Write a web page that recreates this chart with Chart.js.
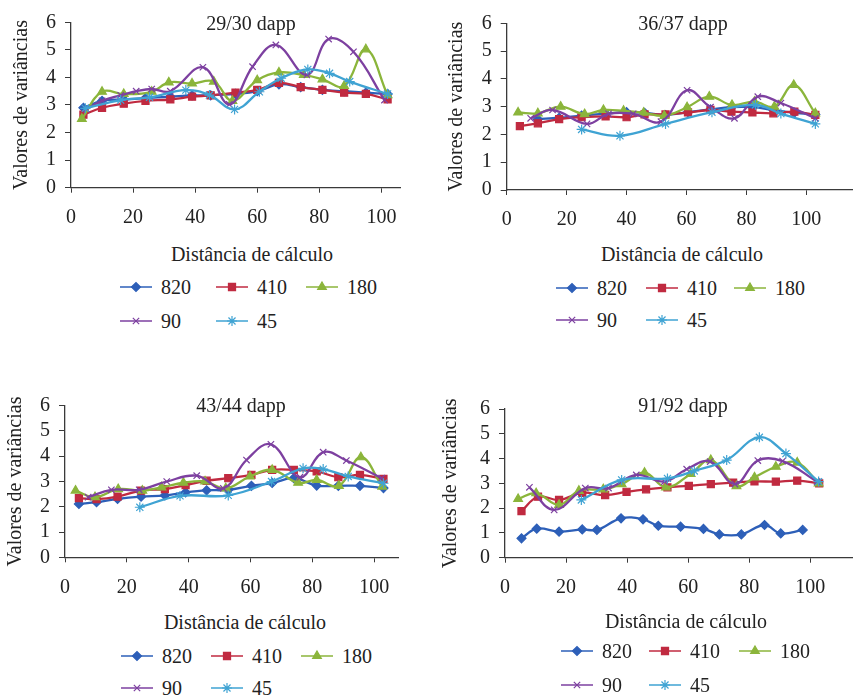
<!DOCTYPE html>
<html><head><meta charset="utf-8">
<script src="https://cdn.jsdelivr.net/npm/chart.js@4.4.1/dist/chart.umd.min.js"></script>
<style>
body{margin:0;width:859px;height:696px;overflow:hidden;background:#fff;font-family:"Liberation Serif","DejaVu Serif",serif;color:#222;position:relative;}
canvas{position:absolute;}
.t{position:absolute;font-size:20px;line-height:24px;white-space:nowrap;color:#222;}
.c{transform:translateX(-50%);}
</style></head><body>
<script>
// ---------- DATA ----------
const seriesNames = ['820', '410', '180', '90', '45'];
const panelTitles = ['29/30 dapp', '36/37 dapp', '43/44 dapp', '91/92 dapp'];
const xTicks = [0, 20, 40, 60, 80, 100];
const yTicks = [0, 1, 2, 3, 4, 5, 6];

// Panel 1: 29/30 dapp
const p1x820 = [4, 10, 17, 24, 32, 39, 45, 53, 60, 67, 74, 81, 88, 95, 102];
const p1y820 = [2.9, 3.15, 3.2, 3.25, 3.3, 3.35, 3.35, 3.4, 3.5, 3.75, 3.65, 3.55, 3.5, 3.45, 3.4];
const p1x410 = [4, 10, 17, 24, 32, 39, 45, 53, 60, 67, 74, 81, 88, 95, 102];
const p1y410 = [2.65, 2.9, 3.05, 3.15, 3.2, 3.3, 3.35, 3.45, 3.55, 3.8, 3.65, 3.55, 3.45, 3.4, 3.2];
const p1x180 = [3.5, 10, 17, 26, 31.5, 39, 46, 52, 60, 67, 75, 81, 88, 95, 102];
const p1y180 = [2.5, 3.48, 3.4, 3.48, 3.82, 3.78, 3.85, 3.15, 3.9, 4.18, 4.09, 3.93, 3.69, 5.02, 3.36];
const p1x90 = [5, 10, 16, 21, 26, 32, 42.5, 51, 58.5, 66, 76, 83, 91, 101];
const p1y90 = [2.85, 3.15, 3.35, 3.5, 3.58, 3.5, 4.37, 3.02, 4.39, 5.18, 4.09, 5.39, 4.93, 3.18];
const p1x45 = [4.6, 16, 25.3, 37, 44.6, 52.7, 60.7, 67.7, 76.3, 83.3, 89.8, 102];
const p1y45 = [2.88, 3.18, 3.28, 3.54, 3.36, 2.84, 3.48, 3.97, 4.29, 4.15, 3.85, 3.4];

// Panel 2: 36/37 dapp
const p2x820 = [10.4, 17.5, 25, 33, 40, 46, 53, 60.5, 68, 75, 82, 89, 96, 103];
const p2y820 = [2.55, 2.6, 2.68, 2.75, 2.8, 2.78, 2.7, 2.8, 2.9, 2.98, 2.98, 2.88, 2.78, 2.72];
const p2x410 = [4.4, 10.4, 17.5, 25, 33, 40, 46, 53, 60.5, 68, 75, 82, 89, 96, 103];
const p2y410 = [2.3, 2.4, 2.55, 2.62, 2.65, 2.62, 2.72, 2.72, 2.79, 2.88, 2.82, 2.79, 2.76, 2.82, 2.7];
const p2x180 = [3.8, 10.4, 18, 26, 32.3, 39, 45.7, 52.6, 60.2, 67.6, 75.2, 82.7, 89.3, 95.8, 103];
const p2y180 = [2.79, 2.76, 3.0, 2.73, 2.88, 2.85, 2.78, 2.67, 2.98, 3.36, 3.06, 3.18, 3.0, 3.78, 2.76];
const p2x90 = [8, 15.3, 26.8, 34, 42.2, 51.5, 60.2, 68, 76, 83.8, 91.5, 103];
const p2y90 = [2.58, 2.88, 2.38, 2.74, 2.74, 2.46, 3.59, 2.98, 2.58, 3.36, 3.13, 2.58];
const p2x45 = [25, 37.8, 53, 68.5, 83, 91.5, 103];
const p2y45 = [2.18, 1.95, 2.38, 2.8, 3.06, 2.75, 2.38];

// Panel 3: 43/44 dapp
const p3x820 = [4.5, 10.2, 17, 24.6, 32.3, 39, 45.8, 52.8, 60.3, 67, 74, 81.4, 88.4, 95.4, 103];
const p3y820 = [2.11, 2.18, 2.31, 2.4, 2.45, 2.57, 2.65, 2.67, 2.83, 2.94, 3.13, 2.84, 2.83, 2.83, 2.74];
const p3x410 = [4.5, 10.2, 17, 24.6, 32.3, 39, 45.8, 52.8, 60.3, 67, 74, 81.4, 88.4, 95.4, 103];
const p3y410 = [2.34, 2.3, 2.4, 2.64, 2.7, 2.86, 3.03, 3.13, 3.26, 3.46, 3.46, 3.4, 3.17, 3.26, 3.1];
const p3x180 = [3.4, 9.7, 17.2, 25, 31.2, 38.3, 45.3, 52, 59.8, 67, 75.4, 81.4, 88.6, 95.7, 102.6];
const p3y180 = [2.64, 2.38, 2.7, 2.64, 2.77, 2.95, 3.0, 2.73, 3.2, 3.46, 2.95, 3.06, 2.83, 3.96, 2.8];
const p3x90 = [7.5, 15, 24, 32.9, 42.6, 51.2, 58.7, 66.6, 76, 83.5, 91, 102.4];
const p3y90 = [2.38, 2.67, 2.67, 3.0, 3.23, 2.73, 3.85, 4.47, 3.17, 4.16, 3.83, 3.13];
const p3x45 = [24.2, 37.2, 52.8, 66.8, 77, 83.5, 91.6, 103];
const p3y45 = [1.98, 2.43, 2.45, 3.0, 3.52, 3.49, 3.2, 2.93];

// Panel 4: 91/92 dapp
const p4x820 = [5.4, 10.4, 17.7, 25.3, 30.1, 38, 45.2, 50.2, 57.5, 65, 70.2, 77.4, 85, 90.3, 97.5];
const p4y820 = [0.78, 1.17, 1.05, 1.14, 1.12, 1.59, 1.55, 1.29, 1.25, 1.16, 0.94, 0.94, 1.32, 0.98, 1.12];
const p4x410 = [5.4, 10.8, 17.7, 25.3, 32.8, 39.8, 46.2, 53.2, 60.2, 67.4, 74.7, 81.7, 88.7, 95.7, 102.9];
const p4y410 = [1.88, 2.46, 2.33, 2.62, 2.53, 2.66, 2.76, 2.84, 2.9, 2.97, 3.03, 3.08, 3.07, 3.11, 3.0];
const p4x180 = [4.3, 10.2, 17.7, 24.2, 32.2, 38.2, 45.7, 52.7, 60.8, 67.4, 75.8, 81.7, 88.7, 95.7, 102.7];
const p4y180 = [2.37, 2.6, 2.13, 2.7, 2.76, 2.97, 3.43, 2.84, 3.38, 3.94, 2.89, 3.24, 3.67, 3.84, 3.0];
const p4x90 = [8, 16.1, 26.3, 33.9, 43, 52.2, 59.5, 67.2, 75.3, 82.8, 90.9, 102.2];
const p4y90 = [2.84, 1.93, 2.81, 2.81, 3.34, 3.07, 3.57, 3.88, 2.97, 3.92, 3.9, 3.07];
const p4x45 = [25, 38.2, 53.2, 62, 72.6, 83.3, 92, 102.7];
const p4y45 = [2.33, 3.14, 3.2, 3.5, 3.94, 4.86, 4.2, 3.07];

// ---------- STYLE / LAYOUT ----------
const FONT = '"Liberation Serif","DejaVu Serif",serif';
const TXT = '#222';
const AX = '#3a3a3a';
const styles = [
  {color: '#2d5fb8', point: 'rectRot', r: 4.5, order: 5},
  {color: '#c02a40', point: 'rect', r: 5, order: 4},
  {color: '#8bb53b', point: 'triangle', r: 5, order: 3},
  {color: '#7d40a0', point: 'crossRot', r: 4.5, order: 2},
  {color: '#3fa3d3', point: 'star', r: 5, order: 1}
];

const panels = [
  {left: 0, top: 0, w: 420, h: 240, padTop: 22.3, padRight: 20, yW: 71, xMax: 106, plotBottom: 187.7, yTitlePad: 9.7,
   tX: 251, tBase: 30, xtX: 252, xtBase: 261, lb: [294, 328], lx: [161, 257, 347, 161, 257],
   xs: [p1x820, p1x410, p1x180, p1x90, p1x45], ys: [p1y820, p1y410, p1y180, p1y90, p1y45]},
  {left: 430, top: 0, w: 429, h: 240, padTop: 23.3, padRight: 1, yW: 76.7, xMax: 115.5, plotBottom: 190, yTitlePad: 15,
   tX: 683, tBase: 30, xtX: 682, xtBase: 261, lb: [295, 327], lx: [597, 687, 775, 597, 687],
   xs: [p2x820, p2x410, p2x180, p2x90, p2x45], ys: [p2y820, p2y410, p2y180, p2y90, p2y45]},
  {left: 0, top: 380, w: 420, h: 230, padTop: 25.7, padRight: 22, yW: 65, xMax: 107.7, plotBottom: 557.3, yTitlePad: 4,
   tX: 241, tBase: 412, xtX: 245, xtBase: 629, lb: [663, 695], lx: [162, 252, 342, 162, 252],
   xs: [p3x820, p3x410, p3x180, p3x90, p3x45], ys: [p3y820, p3y410, p3y180, p3y90, p3y45]},
  {left: 430, top: 380, w: 429, h: 230, padTop: 29, padRight: 1, yW: 75, xMax: 113.9, plotBottom: 557.7, yTitlePad: 9,
   tX: 683, tBase: 412, xtX: 686, xtBase: 628, lb: [658, 692], lx: [602, 690, 780, 602, 690],
   xs: [p4x820, p4x410, p4x180, p4x90, p4x45], ys: [p4y820, p4y410, p4y180, p4y90, p4y45]}
];

function addText(txt, x, base, center) {
  const d = document.createElement('div');
  d.className = 't' + (center ? ' c' : '');
  d.textContent = txt;
  d.style.left = x + 'px';
  d.style.top = (base - 18.75) + 'px';
  document.body.appendChild(d);
}

function drawGlyph(ctx, st, cx, cy) {
  ctx.save();
  ctx.strokeStyle = st.color; ctx.fillStyle = st.color; ctx.lineWidth = 1.5;
  ctx.beginPath(); ctx.moveTo(cx - 16, cy); ctx.lineTo(cx + 16, cy); ctx.stroke();
  ctx.lineWidth = 1.2;
  Chart.helpers.drawPoint(ctx, {pointStyle: st.point, radius: st.r, borderWidth: 1.2, rotation: 0}, cx, cy);
  ctx.restore();
}

panels.forEach((p, pi) => {
  const cv = document.createElement('canvas');
  cv.width = p.w; cv.height = p.h;
  cv.style.left = p.left + 'px'; cv.style.top = p.top + 'px';
  cv.style.width = p.w + 'px'; cv.style.height = p.h + 'px';
  document.body.appendChild(cv);
  const xH = p.top + p.h - p.plotBottom;
  const datasets = seriesNames.map((name, si) => {
    const st = styles[si];
    return {
      label: name,
      data: p.xs[si].map((x, i) => ({x: x, y: p.ys[si][i]})),
      borderColor: st.color, backgroundColor: st.color,
      pointStyle: st.point, pointRadius: st.r, pointBorderWidth: 1.2,
      pointBorderColor: st.color, pointBackgroundColor: st.color,
      borderWidth: 2.3, tension: 0.4, fill: false, order: st.order
    };
  });
  new Chart(cv, {
    type: 'line',
    data: {datasets},
    options: {
      responsive: false, animation: false, devicePixelRatio: 1,
      layout: {padding: {left: 0, top: p.padTop, right: p.padRight, bottom: 0}},
      plugins: {legend: {display: false}, tooltip: {enabled: false}, title: {display: false}},
      scales: {
        x: {
          type: 'linear', min: 0, max: p.xMax,
          ticks: {stepSize: 20, padding: 13, autoSkip: false, color: TXT, font: {family: FONT, size: 20}, maxRotation: 0},
          afterBuildTicks: s => { s.ticks = xTicks.map(v => ({value: v})); },
          afterFit: s => { s.height = xH; },
          grid: {display: true, drawOnChartArea: false, drawTicks: true, tickLength: 5, color: AX, lineWidth: 1},
          border: {display: true, color: AX, width: 1.3}
        },
        y: {
          type: 'linear', min: 0, max: 6,
          ticks: {stepSize: 1, padding: 9, autoSkip: false, color: TXT, font: {family: FONT, size: 20}},
          afterBuildTicks: s => { s.ticks = yTicks.map(v => ({value: v})); },
          afterFit: s => { s.width = p.yW; },
          title: {display: true, text: 'Valores de variâncias', color: TXT, font: {family: FONT, size: 20},
                  padding: {top: p.yTitlePad, bottom: 0}},
          grid: {display: true, drawOnChartArea: false, drawTicks: true, tickLength: 6, color: AX, lineWidth: 1},
          border: {display: true, color: AX, width: 1.3}
        }
      }
    }
  });
  addText(panelTitles[pi], p.tX, p.tBase, true);
  addText('Distância de cálculo', p.xtX, p.xtBase, true);
  seriesNames.forEach((name, si) => {
    const row = si < 3 ? 0 : 1;
    const tx = p.lx[si];
    const base = p.lb[row];
    addText(name, tx, base, false);
    const g = document.createElement('canvas');
    g.width = 34; g.height = 16;
    g.style.left = (tx - 42) + 'px';
    g.style.top = (base - 6.7 - 8) + 'px';
    document.body.appendChild(g);
    drawGlyph(g.getContext('2d'), styles[si], 17, 8);
  });
});
</script>
</body></html>
